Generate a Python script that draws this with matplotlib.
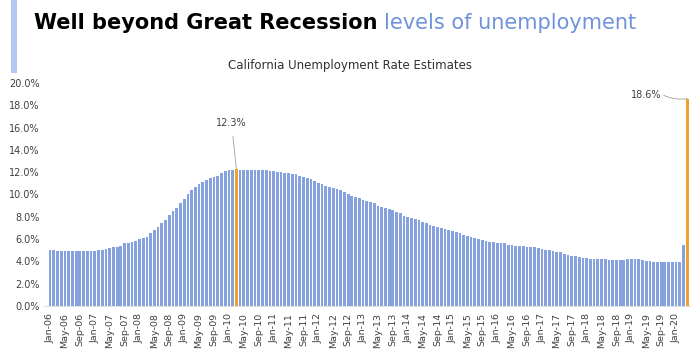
import matplotlib
matplotlib.use("Agg")
import matplotlib.pyplot as plt
from matplotlib.patches import Rectangle

# ---- data ----
years = list(range(2006, 2021))
months = ["Jan", "Feb", "Mar", "Apr", "May", "Jun", "Jul", "Aug", "Sep", "Oct", "Nov", "Dec"]

rate_2006 = [5.0, 5.0, 4.9, 4.9, 4.9, 4.9, 4.9, 4.9, 4.9, 4.9, 4.9, 4.9]
rate_2007 = [4.9, 5.0, 5.0, 5.1, 5.2, 5.3, 5.3, 5.4, 5.6, 5.6, 5.7, 5.8]
rate_2008 = [6.0, 6.1, 6.2, 6.5, 6.8, 7.1, 7.4, 7.7, 8.2, 8.5, 8.8, 9.2]
rate_2009 = [9.6, 10.0, 10.4, 10.7, 10.9, 11.1, 11.3, 11.5, 11.6, 11.7, 11.9, 12.1]
rate_2010 = [12.2, 12.2, 12.3, 12.2, 12.2, 12.2, 12.2, 12.2, 12.2, 12.2, 12.2, 12.1]
rate_2011 = [12.1, 12.0, 12.0, 11.9, 11.9, 11.8, 11.8, 11.7, 11.6, 11.5, 11.4, 11.2]
rate_2012 = [11.0, 10.9, 10.8, 10.7, 10.6, 10.5, 10.4, 10.2, 10.0, 9.9, 9.8, 9.7]
rate_2013 = [9.5, 9.4, 9.3, 9.2, 9.0, 8.9, 8.8, 8.7, 8.6, 8.4, 8.3, 8.1]
rate_2014 = [8.0, 7.9, 7.8, 7.7, 7.5, 7.4, 7.3, 7.2, 7.1, 7.0, 6.9, 6.8]
rate_2015 = [6.7, 6.6, 6.5, 6.4, 6.3, 6.2, 6.1, 6.0, 5.9, 5.8, 5.7, 5.7]
rate_2016 = [5.6, 5.6, 5.6, 5.5, 5.5, 5.4, 5.4, 5.4, 5.3, 5.3, 5.3, 5.2]
rate_2017 = [5.1, 5.0, 5.0, 4.9, 4.8, 4.8, 4.7, 4.6, 4.5, 4.5, 4.4, 4.3]
rate_2018 = [4.3, 4.2, 4.2, 4.2, 4.2, 4.2, 4.1, 4.1, 4.1, 4.1, 4.1, 4.2]
rate_2019 = [4.2, 4.2, 4.2, 4.1, 4.0, 4.0, 3.9, 3.9, 3.9, 3.9, 3.9, 3.9]
rate_2020 = [3.9, 3.9, 5.5, 18.6]

rates = (rate_2006 + rate_2007 + rate_2008 + rate_2009 + rate_2010 + rate_2011 +
         rate_2012 + rate_2013 + rate_2014 + rate_2015 + rate_2016 + rate_2017 +
         rate_2018 + rate_2019 + rate_2020)

labels = []
for y in years:
    for m in months:
        labels.append(f"{m}-{str(y)[2:]}")
labels = labels[:len(rates)]

highlight = ["Mar-10", "Apr-20"]
annot_text = {"Mar-10": "12.3%", "Apr-20": "18.6%"}

yticks = [0, 2, 4, 6, 8, 10, 12, 14, 16, 18, 20]

# ---- styling ----
blue = "#86a2de"
orange = "#f0a12c"
txt = "#404040"

fig = plt.figure(figsize=(7.0, 3.52), dpi=100)
ax = fig.add_axes([0.063, 0.131, 0.923, 0.633])

x = list(range(len(rates)))
colors = [orange if l in highlight else blue for l in labels]
ax.bar(x, rates, width=0.74, color=colors, edgecolor="none")

ax.set_xlim(-1.6, len(rates) - 0.2)
ax.set_ylim(0, 20)
ax.set_yticks(yticks)
ax.set_yticklabels([f"{v:.1f}%" for v in yticks], fontsize=7, color=txt)
ax.set_xticks(x[::4])
ax.set_xticklabels(labels[::4], rotation=90, fontsize=6.8, color=txt)
ax.tick_params(axis="y", length=0, pad=3)
ax.tick_params(axis="x", length=0, pad=5)
for s in ["top", "right", "left"]:
    ax.spines[s].set_visible(False)
ax.spines["bottom"].set_color("#e0e0e0")

# annotations
i1 = labels.index("Mar-10")
ax.annotate(annot_text["Mar-10"], xy=(i1, rates[i1]), xytext=(i1 - 1.3, 16.4),
            fontsize=7, color=txt, ha="center", va="center",
            arrowprops=dict(arrowstyle="-", color="#a0a0a0", lw=0.6,
                            shrinkA=4, shrinkB=0))
i2 = labels.index("Apr-20")
ax.text(i2 - 6.8, 18.9, annot_text["Apr-20"], fontsize=7, color=txt,
        ha="right", va="center")
ax.annotate("", xy=(i2, rates[i2]), xytext=(i2 - 6.3, 18.9),
            arrowprops=dict(arrowstyle="-", color="#a0a0a0", lw=0.6,
                            shrinkA=0, shrinkB=0,
                            connectionstyle="arc3,rad=0.15"))

# titles
fig.text(0.5, 0.8125, "California Unemployment Rate Estimates", ha="center",
         va="center", fontsize=8.5, color="#303030")
t1 = fig.text(0.048, 0.935, "Well beyond Great Recession ", ha="left", va="center",
              fontsize=15, fontweight="bold", color="black", family="DejaVu Sans")
fig.canvas.draw()
bb = t1.get_window_extent()
x2 = bb.x1 / fig.bbox.width
fig.text(x2, 0.935, "levels of unemployment", ha="left", va="center",
         fontsize=15, fontweight="normal", color="#6e93dc", family="DejaVu Sans")

# slide decoration
fig.patches.append(Rectangle((0.016, 0.793), 0.0086, 0.207, transform=fig.transFigure,
                             facecolor="#b4c9ef", edgecolor="none"))

fig.savefig("out.png", dpi=100)
